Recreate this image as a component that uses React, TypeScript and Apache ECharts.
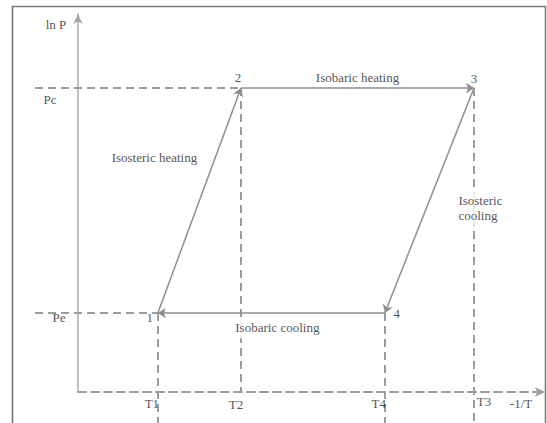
import React, { useEffect, useRef } from "react";
import * as echarts from "echarts";

// Abscissa: -1/T, ordinate: ln P (arbitrary 0–100 units on both axes)
const tempNames = ["T1", "T2", "T4", "T3"];
const tempValues = [17.1, 34.9, 65.7, 84.8];
const pressureNames = ["Pe", "Pc"];
const pressureValues = [20.9, 80.4];

// Cycle states: [temperature index, pressure index]
const stateNames = ["1", "2", "3", "4"];
const stateTemp = [0, 1, 3, 2];
const statePressure = [0, 1, 1, 0];

// Processes between states
const processFrom = [0, 1, 2, 3];
const processTo = [1, 2, 3, 0];
const processNames = ["Isosteric heating", "Isobaric heating", "Isosteric\ncooling", "Isobaric cooling"];

// Label offsets in pixels
const stateLabelOffsets = [[-8, 5], [-3, -11], [0, -10], [12, 1]];
const tempLabelOffsets = [[-6, 11], [-5, 12], [-6, 11], [10, 9]];
const pressureLabelOffsets = [[-19, 5], [-28, 11]];
const processLabelOffsets = [[-45, -43], [0, -11], [28, 7], [6, 15]];

const X_MIN = 0, X_MAX = 100, Y_MIN = 0, Y_MAX = 100;
const BELOW_AXIS = -9;
const LEFT_OF_AXIS = -9.2;

const TEXT = "#262626";
const LINE = "#8e8e8e";
const DASH = "#9c9c9c";
const FONT = "Liberation Serif";

export default function App() {
  const ref = useRef<HTMLDivElement>(null);

  useEffect(() => {
    if (!ref.current) return;
    const chart = echarts.init(ref.current, null, { renderer: "svg" });

    const statePt = (i: number) => [tempValues[stateTemp[i]], pressureValues[statePressure[i]]];

    // Dashed guide lines
    const guides: any[] = [];
    // pressure levels run from left of the axis to the first state on that level
    pressureValues.forEach((p, k) => {
      const firstState = statePressure.indexOf(k);
      guides.push({ coords: [[LEFT_OF_AXIS, p], statePt(firstState)] });
    });
    // temperature drops from each state down
    stateNames.forEach((_, i) => {
      const pt = statePt(i);
      const toAxis = stateNames[i] === "2";
      guides.push({ coords: [pt, [pt[0], toAxis ? Y_MIN : BELOW_AXIS]] });
    });

    const processes = processFrom.map((f, k) => ({ coords: [statePt(f), statePt(processTo[k])] }));

    const labelItem = (value: number[], text: string, offset: number[], extra: any = {}) => ({
      value,
      itemStyle: { color: "transparent" },
      label: {
        show: true,
        formatter: text,
        position: "inside",
        offset,
        align: "center",
        verticalAlign: "middle",
        color: TEXT,
        fontFamily: FONT,
        fontSize: 13,
        textBorderWidth: 0,
        ...extra,
      },
    });

    const labels: any[] = [];
    stateNames.forEach((n, i) => labels.push(labelItem(statePt(i), n, stateLabelOffsets[i])));
    tempNames.forEach((n, i) => labels.push(labelItem([tempValues[i], Y_MIN], n, tempLabelOffsets[i])));
    pressureNames.forEach((n, i) => labels.push(labelItem([X_MIN, pressureValues[i]], n, pressureLabelOffsets[i])));
    processNames.forEach((n, k) => {
      const a = statePt(processFrom[k]);
      const b = statePt(processTo[k]);
      labels.push(
        labelItem([(a[0] + b[0]) / 2, (a[1] + b[1]) / 2], n, processLabelOffsets[k], {
          align: k === 2 ? "left" : "center",
          lineHeight: 15,
          backgroundColor: k >= 2 ? "#ffffff" : undefined,
          padding: k >= 2 ? [3, 1] : 0,
        })
      );
    });
    labels.push(labelItem([X_MIN, Y_MAX], "ln P", [-22, 10]));
    labels.push(labelItem([X_MAX, Y_MIN], "-1/T", [-24, 11]));

    chart.setOption({
      animation: false,
      grid: { left: 78, right: 2, top: 14, bottom: 31 },
      graphic: [
        {
          type: "rect",
          z: -10,
          silent: true,
          shape: { x: 12.5, y: 6.5, width: 533, height: 430 },
          style: { fill: "none", stroke: "#7a7a7a", lineWidth: 1.6 },
        },
      ],
      xAxis: {
        type: "value",
        min: X_MIN,
        max: X_MAX,
        axisLabel: { show: false },
        axisTick: { show: false },
        splitLine: { show: false },
        axisLine: {
          show: true,
          onZero: false,
          symbol: ["none", "arrow"],
          symbolSize: [7, 10],
          lineStyle: { color: DASH, width: 2, type: [8, 5] },
        },
      },
      yAxis: {
        type: "value",
        min: Y_MIN,
        max: Y_MAX,
        axisLabel: { show: false },
        axisTick: { show: false },
        splitLine: { show: false },
        axisLine: {
          show: true,
          onZero: false,
          symbol: ["none", "arrow"],
          symbolSize: [7, 10],
          lineStyle: { color: "#a8a8a8", width: 1.5 },
        },
      },
      series: [
        {
          type: "lines",
          coordinateSystem: "cartesian2d",
          clip: false,
          silent: true,
          data: guides,
          lineStyle: { color: DASH, width: 2, type: [8, 5], opacity: 1 },
        },
        {
          type: "lines",
          coordinateSystem: "cartesian2d",
          clip: false,
          silent: true,
          data: processes,
          symbol: ["none", "arrow"],
          symbolSize: 8,
          lineStyle: { color: LINE, width: 1.5, opacity: 1 },
        },
        {
          type: "scatter",
          clip: false,
          silent: true,
          symbolSize: 0,
          itemStyle: { color: "transparent" },
          label: { color: TEXT, fontFamily: FONT, fontSize: 13 },
          data: labels,
          z: 5,
        },
      ],
    });

    return () => chart.dispose();
  }, []);

  return (
    <div
      ref={ref}
      style={{ position: "fixed", left: 0, top: 0, width: 547, height: 423, background: "#fff" }}
    />
  );
}
